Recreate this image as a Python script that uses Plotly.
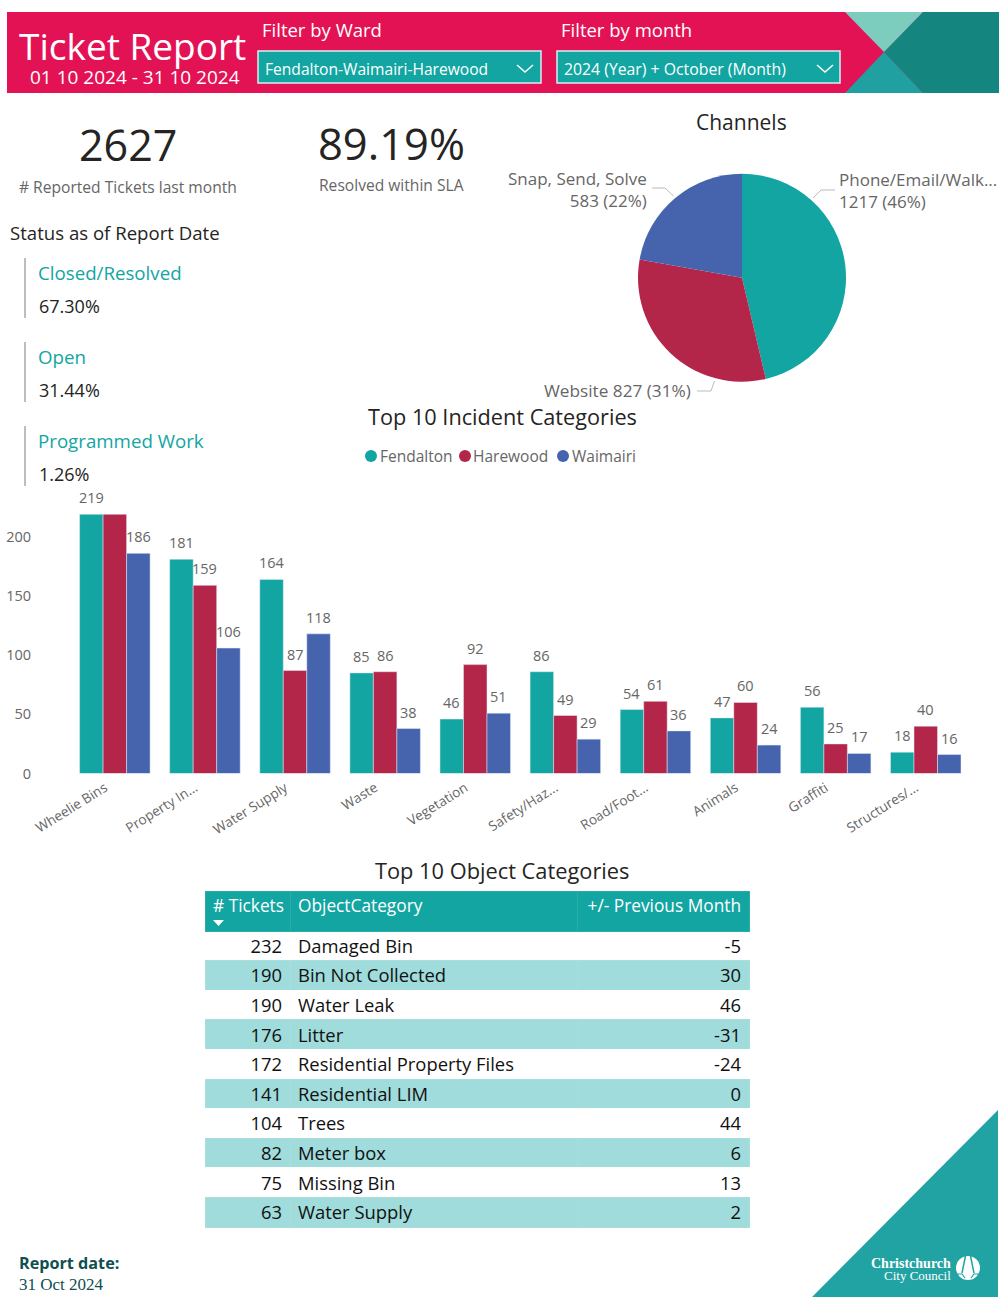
import plotly.graph_objects as go

W = 1004
H = 1312
FONT = "Open Sans"

TEAL = "#12A5A2"
CRIMSON = "#B4254A"
BLUE = "#4664AE"
GREY = "#666666"
DARK = "#252423"
LOGO_TEAL = "#22A3A3"

# channels pie
channel_names = ["Phone/Email/Walk...", "Website", "Snap, Send, Solve"]
channel_values = [1217, 827, 583]
channel_pct = [46, 31, 22]

# incident categories
categories = ["Wheelie Bins", "Property In...", "Water Supply", "Waste", "Vegetation",
              "Safety/Haz...", "Road/Foot...", "Animals", "Graffiti", "Structures/..."]
fendalton = [219, 181, 164, 85, 46, 86, 54, 47, 56, 18]
harewood = [219, 159, 87, 86, 92, 49, 61, 60, 25, 40]
waimairi = [186, 106, 118, 38, 51, 29, 36, 24, 17, 16]
y_ticks = [0, 50, 100, 150, 200]

# object categories table
object_headers = ["#\u00a0Tickets", "ObjectCategory", "+/-\u00a0Previous\u00a0Month"]
object_tickets = [232, 190, 190, 176, 172, 141, 104, 82, 75, 63]
object_names = ["Damaged Bin", "Bin Not Collected", "Water Leak", "Litter",
                "Residential Property Files", "Residential LIM", "Trees",
                "Meter box", "Missing Bin", "Water Supply"]
object_change = [-5, 30, 46, -31, -24, 0, 44, 6, 13, 2]

# status block
status_names = ["Closed/Resolved", "Open", "Programmed Work"]
status_values = ["67.30%", "31.44%", "1.26%"]


def px(x):
    return x / W


def py(y):
    return 1 - y / H


def text(s, x, y, size, color=DARK, anchor="left", family=FONT):
    return dict(text=s, x=px(x), y=py(y), xref="paper", yref="paper", showarrow=False,
                xanchor=anchor, yanchor="middle", align=anchor, borderpad=0, borderwidth=0,
                font=dict(size=size, color=color, family=family))


def poly(points, fill, layer="below"):
    path = "M " + " L ".join(f"{px(a)} {py(b)}" for a, b in points) + " Z"
    return dict(type="path", path=path, xref="paper", yref="paper", fillcolor=fill,
                line_width=0, layer=layer)


def rect(x0, y0, x1, y1, fill, line=None, layer="below"):
    return dict(type="rect", x0=px(x0), x1=px(x1), y0=py(y1), y1=py(y0), xref="paper", yref="paper",
                fillcolor=fill, line=dict(color=line, width=1.5) if line else dict(width=0), layer=layer)


def polyline(points, color, width=1.5):
    path = "M " + " L ".join(f"{px(a)} {py(b)}" for a, b in points)
    return dict(type="path", path=path, xref="paper", yref="paper", line=dict(color=color, width=width))


def circle(x0, y0, x1, y1, fill):
    return dict(type="circle", x0=px(x0), x1=px(x1), y0=py(y1), y1=py(y0), xref="paper", yref="paper",
                fillcolor=fill, line_width=0)


fig = go.Figure()

fig.add_trace(go.Pie(labels=channel_names, values=channel_values, sort=False, direction="clockwise",
                     rotation=0, textinfo="none", showlegend=False,
                     marker=dict(colors=[TEAL, CRIMSON, BLUE]),
                     domain=dict(x=[px(638), px(846)], y=[py(381.7), py(173.7)])))

series = [("Fendalton", fendalton, TEAL), ("Harewood", harewood, CRIMSON), ("Waimairi", waimairi, BLUE)]
for name, vals, col in series:
    fig.add_trace(go.Bar(x=categories, y=vals, name=name, marker_color=col, cliponaxis=False))

fig.add_trace(go.Table(
    domain=dict(x=[px(205), px(749)], y=[py(1240), py(891)]),
    columnwidth=[85, 287, 172],
    header=dict(values=object_headers, height=40,
                fill_color=TEAL, line_color="#2BACA9", align=["left", "left", "right"],
                font=dict(size=17.3, color="white", family=FONT)),
    cells=dict(values=[object_tickets, object_names, object_change], height=29.6,
               fill_color=[["white", "#A0DCDB"] * 5], line_color=[["white", "#A8DFDE"] * 5],
               align=["right", "left", "right"],
               font=dict(size=18.4, color="#111111", family=FONT))))

shapes = [
    rect(7, 12, 999, 93, "#E31255"),
    poly([(923, 12), (999, 12), (999, 93), (923, 93), (884, 52)], "#14857F"),
    poly([(845, 12), (923, 12), (884, 52)], "#7DCDBF"),
    poly([(845, 93), (923, 93), (884, 52)], "#20A0A0"),
    rect(258, 51, 541, 83, TEAL, "#D8EFEF"),
    rect(557, 51, 840, 83, TEAL, "#D8EFEF"),
    polyline([(517, 65), (525, 72), (533, 65)], "white"),
    polyline([(817, 65), (825, 72), (833, 65)], "white"),
    poly([(812, 1297), (998, 1297), (998, 1110)], LOGO_TEAL),
    polyline([(673.6, 196), (665, 188), (652, 188)], "#BBBBBB", 1),
    polyline([(813, 198), (821, 190), (835, 190)], "#BBBBBB", 1),
    polyline([(714.5, 381), (711, 391), (697, 391)], "#BBBBBB", 1),
    poly([(213, 920), (224, 920), (218.5, 926)], "white", "above"),
    # logo
    circle(956, 1256, 980, 1280, "white"),
    polyline([(965.5, 1256), (962, 1273)], LOGO_TEAL, 1.5),
    polyline([(970.5, 1256), (974, 1273)], LOGO_TEAL, 1.5),
    polyline([(956, 1274), (962, 1274), (965, 1278)], LOGO_TEAL, 1.2),
    polyline([(980, 1274), (974, 1274), (971, 1278)], LOGO_TEAL, 1.2),
]

annotations = [
    text("Ticket Report", 132, 45, 37, "white", "center"),
    text("01 10 2024 - 31 10 2024", 135, 76.5, 19, "white", "center"),
    text("Filter by Ward", 262, 30, 18.5, "white"),
    text("Filter by month", 561, 30, 18.5, "white"),
    text("Fendalton-Waimairi-Harewood", 265, 69, 15.6, "white"),
    text("2024 (Year) + October (Month)", 564, 69, 15.8, "white"),
    text("2627", 128, 144.5, 43, DARK, "center"),
    text("# Reported Tickets last month", 128, 187, 15.6, GREY, "center"),
    text("89.19%", 391, 143, 43.5, DARK, "center"),
    text("Resolved within SLA", 391, 185, 15.6, GREY, "center"),
    text("Channels", 741, 122, 21, DARK, "center"),
    text("Status as of Report Date", 10, 232.5, 18.6, DARK),
    text("Top 10 Incident Categories", 502, 416, 21.7, DARK, "center"),
    text("Top 10 Object Categories", 502, 871, 21.8, DARK, "center"),
    text(f"{channel_names[0]}<br>{channel_values[0]} ({channel_pct[0]}%)", 839, 190.5, 17, GREY),
    text(f"{channel_names[2]}<br>{channel_values[2]} ({channel_pct[2]}%)", 647, 189.5, 17, GREY, "right"),
    text(f"{channel_names[1]} {channel_values[1]} ({channel_pct[1]}%)", 691, 390.5, 17.2, GREY, "right"),
    text("<b>Report date:</b>", 19, 1263, 16.2, "#0F4F4F"),
    text("31 Oct 2024", 19, 1284, 17, "#0F4F4F", family="Liberation Serif"),
    text("<b>Christchurch</b>", 951, 1263, 14, "white", "right", "Liberation Serif"),
    text("City Council", 951, 1275, 13, "white", "right", "Liberation Serif"),
]

for i, (name, val) in enumerate(zip(status_names, status_values)):
    y0 = 258 + 84 * i
    shapes.append(rect(24, y0, 26, y0 + 60, "#BDBDBD"))
    annotations.append(text(name, 38, y0 + 14.5, 18.7, TEAL))
    annotations.append(text(val, 39, y0 + 48, 18, DARK))

for name, col, cx, tx in [("Fendalton", TEAL, 371, 380), ("Harewood", CRIMSON, 465, 473), ("Waimairi", BLUE, 563, 572)]:
    shapes.append(circle(cx - 6, 450, cx + 6, 462, col))
    annotations.append(text(name, tx, 456, 15.5, GREY))

# bar value labels sit a bit higher than plotly's own outside text,
# and only one 219 is printed on the first group
for k, (name, vals, col) in enumerate(series):
    for cat, v in zip(categories, vals):
        if name == "Harewood" and cat == categories[0]:
            continue
        annotations.append(dict(x=cat, y=v, xref="x", yref="y", text=str(v), showarrow=False,
                                xshift=(k - 1) * 23.5, yshift=7, yanchor="bottom", borderpad=0, borderwidth=0,
                                font=dict(size=14.5, color=GREY, family=FONT)))

fig.update_layout(
    width=W, height=H, margin=dict(l=0, r=0, t=0, b=0), showlegend=False,
    paper_bgcolor="white", plot_bgcolor="white", barmode="group", bargap=0.2175, bargroupgap=0,
    font=dict(family=FONT), shapes=shapes, annotations=annotations,
    xaxis=dict(domain=[px(36), px(970.8)], range=[-0.875, 9.5], type="category", tickangle=-32,
               automargin=False, ticklabelshift=-10, ticklabelstandoff=3,
               showgrid=False, showline=False, ticks="", tickfont=dict(size=13.6, color=GREY, family=FONT)),
    yaxis=dict(domain=[py(773.5), py(501.3)], range=[0, 230], tickvals=y_ticks, showgrid=False,
               automargin=False, ticklabelstandoff=4,
               zeroline=False, ticks="", tickfont=dict(size=14.5, color=GREY, family=FONT)),
)

fig.write_html("out.html", config={"displayModeBar": False}, post_script="document.body.style.margin='0';")
